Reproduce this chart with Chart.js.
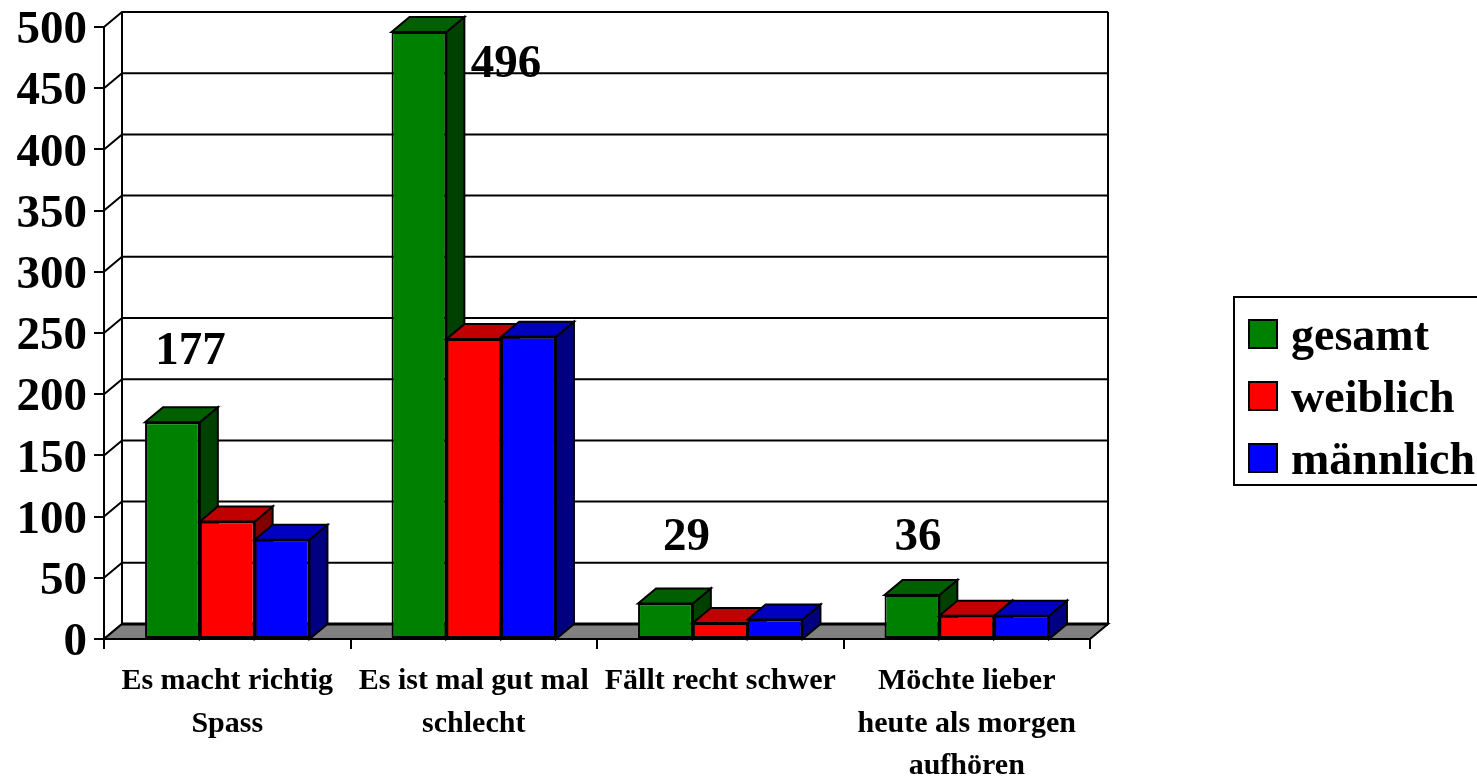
<!DOCTYPE html>
<html>
<head>
<meta charset="utf-8">
<title>Chart</title>
<script src="https://cdn.jsdelivr.net/npm/chart.js@4/dist/chart.umd.min.js"></script>
<style>
  html, body { margin: 0; padding: 0; background: #fff; overflow: hidden; }
  canvas { display: block; }
</style>
</head>
<body>
<canvas id="barChart" width="1477" height="776"></canvas>
<script>
const categories = [
  ["Es macht richtig", "Spass"],
  ["Es ist mal gut mal", "schlecht"],
  "Fällt recht schwer",
  ["Möchte lieber", "heute als morgen", "aufhören"]
];
const gesamt = [177, 496, 29, 36];
const weiblich = [96, 245, 13, 19];
const maennlich = [81, 247, 16, 19];

const frontColors = ["#008000", "#ff0000", "#0000ff"];
const topColors = ["#006000", "#c00000", "#0000c0"];
const sideColors = ["#004000", "#800000", "#000080"];

const serif = "'Liberation Serif', 'Times New Roman', serif";
const depthX = 18;
const depthY = 15;
// where the value captions sit relative to the top of the green bar
const captionShift = [[18, -70], [87, 33], [21, -66], [6, -57]];

function poly(ctx, pts, fill) {
  ctx.beginPath();
  pts.forEach((p, i) => (i ? ctx.lineTo(p[0], p[1]) : ctx.moveTo(p[0], p[1])));
  ctx.closePath();
  if (fill) {
    ctx.fillStyle = fill;
    ctx.fill();
  }
  ctx.stroke();
}

const threeD = {
  id: "threeD",
  afterLayout(chart) {
    // legend sits in a fixed spot to the right of the plot
    const lg = chart.legend;
    lg.left = 1242;
    lg.top = 299;
    lg.width = 235;
    lg.height = 260;
    lg.right = 1477;
    lg.bottom = 559;
    lg.adjustHitBoxes();
  },
  beforeDatasetsDraw(chart) {
    const { ctx, scales: { x, y } } = chart;
    const left = x.left, right = x.right, base = y.getPixelForValue(0);
    const top = y.getPixelForValue(500);
    ctx.save();
    ctx.strokeStyle = "#000";
    ctx.lineWidth = 2;
    y.ticks.forEach(t => {
      const py = y.getPixelForValue(t.value);
      ctx.beginPath();
      ctx.moveTo(left, py);
      ctx.lineTo(left + depthX, py - depthY);
      ctx.lineTo(right + depthX, py - depthY);
      ctx.stroke();
    });
    ctx.beginPath();
    ctx.moveTo(left + depthX, base - depthY);
    ctx.lineTo(left + depthX, top - depthY);
    ctx.moveTo(right + depthX, base - depthY);
    ctx.lineTo(right + depthX, top - depthY);
    ctx.stroke();
    poly(ctx, [[left, base], [right, base], [right + depthX, base - depthY], [left + depthX, base - depthY]], "#808080");
    ctx.lineWidth = 3;
    ctx.beginPath();
    ctx.moveTo(left + depthX, base - depthY);
    ctx.lineTo(right + depthX, base - depthY);
    ctx.stroke();
    ctx.restore();
  },
  // the library paints the last series first, here the left one has to go first
  beforeDatasetDraw() {
    return false;
  },
  afterDatasetsDraw(chart) {
    const { ctx, scales: { y } } = chart;
    const base = y.getPixelForValue(0);
    ctx.save();
    ctx.strokeStyle = "#000";
    ctx.lineWidth = 2;
    chart.data.datasets.forEach((ds, index) => {
      const meta = chart.getDatasetMeta(index);
      meta.data.forEach(bar => {
        const l = bar.x - bar.width / 2, r = bar.x + bar.width / 2, t = bar.y;
        poly(ctx, [[r, t], [r + depthX, t - depthY], [r + depthX, base - depthY], [r, base]], sideColors[index]);
        poly(ctx, [[l, t], [l + depthX, t - depthY], [r + depthX, t - depthY], [r, t]], topColors[index]);
        bar.draw(ctx);
      });
    });

    const bars = chart.getDatasetMeta(0).data;
    ctx.fillStyle = "#000";
    ctx.font = "bold 47px " + serif;
    ctx.textAlign = "center";
    ctx.textBaseline = "middle";
    bars.forEach((bar, i) => {
      ctx.fillText(String(gesamt[i]), bar.x + captionShift[i][0], bar.y + captionShift[i][1]);
    });
    ctx.restore();
  },
  afterDraw(chart) {
    const { ctx } = chart;
    ctx.save();
    ctx.strokeStyle = "#000";
    ctx.lineWidth = 2;
    ctx.strokeRect(1234, 297, 260, 188);
    ctx.restore();
  }
};

// legend swatch, drawn once per series; extra room below lifts it to the text
function swatch(color) {
  const c = document.createElement("canvas");
  c.width = 30;
  c.height = 38;
  const g = c.getContext("2d");
  g.fillStyle = color;
  g.fillRect(1, 1, 28, 28);
  g.strokeStyle = "#000";
  g.lineWidth = 2;
  g.strokeRect(1, 1, 28, 28);
  return c;
}

new Chart(document.getElementById("barChart"), {
  type: "bar",
  data: {
    labels: categories,
    datasets: [
      { label: "gesamt", data: gesamt, backgroundColor: frontColors[0], pointStyle: swatch(frontColors[0]) },
      { label: "weiblich", data: weiblich, backgroundColor: frontColors[1], pointStyle: swatch(frontColors[1]) },
      { label: "männlich", data: maennlich, backgroundColor: frontColors[2], pointStyle: swatch(frontColors[2]) }
    ]
  },
  plugins: [threeD],
  options: {
    responsive: false,
    animation: false,
    layout: { padding: { top: 27, right: 387, left: 0, bottom: 0 } },
    datasets: {
      bar: { borderColor: "#000", borderWidth: 2, borderSkipped: false, categoryPercentage: 0.667, barPercentage: 1 }
    },
    scales: {
      x: {
        afterFit(scale) { scale.height = 137; },
        border: { display: true, color: "#000", width: 2 },
        grid: { drawOnChartArea: false, color: "#000", lineWidth: 2, tickLength: 10, tickColor: "#000", tickWidth: 2 },
        ticks: {
          autoSkip: false,
          maxRotation: 0,
          color: "#000",
          padding: 11,
          font: { family: serif, weight: "bold", size: 30, lineHeight: 1.42 }
        }
      },
      y: {
        min: 0,
        max: 500,
        afterFit(scale) { scale.width = 104; },
        border: { display: true, color: "#000", width: 2 },
        grid: { drawOnChartArea: false, color: "#000", lineWidth: 2, tickLength: 10, tickColor: "#000", tickWidth: 2 },
        ticks: {
          stepSize: 50,
          autoSkip: false,
          color: "#000",
          padding: 7,
          // blank first line drops the number a little below its tick
          callback: v => ["", String(v)],
          font: { family: serif, weight: "bold", size: 47, lineHeight: "8px" }
        }
      }
    },
    plugins: {
      title: { display: false },
      tooltip: { enabled: false },
      legend: {
        position: "chartArea",
        align: "start",
        labels: {
          usePointStyle: true,
          pointStyleWidth: 10,
          boxHeight: 46,
          padding: 16,
          color: "#000",
          font: { family: serif, weight: "bold", size: 46 }
        }
      }
    }
  }
});
</script>
</body>
</html>
